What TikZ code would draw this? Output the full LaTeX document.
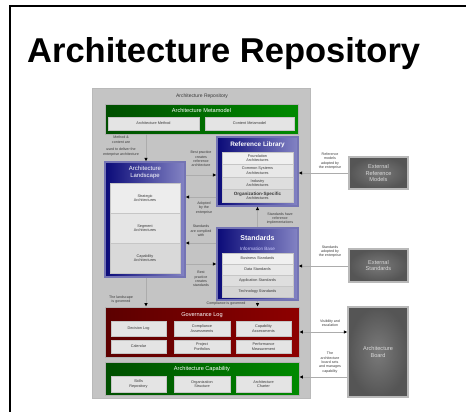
\documentclass[tikz,border=0pt]{standalone}
\usepackage{fontspec}
\setmainfont{Liberation Sans}
\usetikzlibrary{arrows.meta}
\definecolor{panelgray}{HTML}{C4C4C4}
\definecolor{greendark}{HTML}{004E00}
\definecolor{greenlight}{HTML}{008A00}
\definecolor{bluedark}{HTML}{0A0A78}
\definecolor{bluelight}{HTML}{8484C4}
\definecolor{bluerim}{HTML}{7474B4}
\definecolor{reddark}{HTML}{5C0000}
\definecolor{redlight}{HTML}{8E0000}
\definecolor{itemgray}{HTML}{E4E4E4}
\definecolor{extdark}{HTML}{555555}
\definecolor{extlight}{HTML}{7A7A7A}
\definecolor{notegray}{HTML}{3A3A3A}
\tikzset{Panel/.style={fill=panelgray,draw=gray!55,inner sep=0pt},
  Greenbox/.style={left color=greendark,right color=greenlight,draw=gray!60,line width=0.8pt,inner sep=0pt},
  Bluebox/.style={left color=bluedark,right color=bluelight,draw=bluerim,line width=1.2pt,inner sep=0pt},
  Redbox/.style={left color=reddark,right color=redlight,draw=gray!60,line width=0.8pt,inner sep=0pt},
  Item/.style={fill=#1,draw=gray!45,inner sep=0pt,align=center,text=notegray,font=\fontsize{3.8}{4.4}\selectfont},
  Item/.default=itemgray,
  Head/.style={text=white,inner sep=0pt,align=center,font=\fontsize{5.6}{6.4}\selectfont},
  Extbox/.style={inner color=extlight,outer color=extdark,draw=gray!55,line width=1.2pt,inner sep=0pt,
    text=white!85!black,align=center,font=\fontsize{5.6}{6.6}\selectfont},
  Note/.style={inner sep=0pt,align=center,text=notegray,font=\fontsize{3.6}{4.4}\selectfont},
  Link/.style={draw=gray!65,line width=0.7pt,-{Latex[black,length=3.5pt,width=3.5pt]}},
  Link2/.style={draw=gray!65,line width=0.7pt,{Latex[black,length=3.5pt,width=3.5pt]}-{Latex[black,length=3.5pt,width=3.5pt]}}}

\begin{document}
\begin{tikzpicture}[x=1pt,y=-1pt]
        \useasboundingbox (0,0) rectangle (466,412);
        \draw[line width=1.6pt] (466,6) -- (10,6) -- (10,412);
        \node[anchor=base west,inner sep=0pt,font=\fontsize{34.5}{40}\selectfont\bfseries] (Title) at (27,63) {Architecture Repository};

        % repository panel
        \node[Panel,minimum width=218pt,minimum height=310pt] (Repo) at (201,243){};
        \node[Note,font=\fontsize{5}{6}\selectfont] (RepoName) at (202,96) {Architecture Repository};

        % metamodel
        \node[Greenbox,minimum width=193pt,minimum height=30pt] (Meta) at (201.5,119){};
        \node[Head] (MetaHead) at (201.5,110) {Architecture Metamodel};
        \node[Item,minimum width=91pt,minimum height=13pt] (Method) at (153.5,123.5) {Architecture Method};
        \node[Item,minimum width=89pt,minimum height=13pt] (Content) at (249.5,123.5) {Content Metamodel};

        % landscape
        \node[Bluebox,minimum width=80pt,minimum height=115pt] (Land) at (145,219.5){};
        \node[Head,font=\fontsize{6}{7}\selectfont] (LandHead) at (145,172) {Architecture\\Landscape};
        \node[Item=gray!14,minimum width=70pt,minimum height=30pt] (Strat) at (145,198) {Strategic\\Architectures};
        \node[Item=gray!20,minimum width=70pt,minimum height=30pt] (Segm) at (145,228) {Segment\\Architectures};
        \node[Item=gray!30,minimum width=70pt,minimum height=30pt] (Capa) at (145,258) {Capability\\Architectures};

        % reference library
        \node[Bluebox,minimum width=81pt,minimum height=69pt] (RefLib) at (257.5,171.5){};
        \node[Head,font=\fontsize{6.4}{7}\selectfont\bfseries] (RefHead) at (257.5,145) {Reference Library};
        \node[Item=gray!12,minimum width=71pt,minimum height=12.5pt] (Found) at (257.5,158.25) {Foundation\\Architectures};
        \node[Item=gray!18,minimum width=71pt,minimum height=12.5pt] (Common) at (257.5,170.75) {Common Systems\\Architectures};
        \node[Item=gray!26,minimum width=71pt,minimum height=12.5pt] (Indus) at (257.5,183.25) {Industry\\Architectures};
        \node[Item=gray!34,minimum width=71pt,minimum height=12.5pt] (Org) at (257.5,195.75) {\textbf{\fontsize{4.6}{5}\selectfont Organization-Specific}\\Architectures};

        % standards
        \node[Bluebox,minimum width=81pt,minimum height=72pt] (Std) at (257.5,264){};
        \node[Head,font=\fontsize{7}{8}\selectfont\bfseries] (StdHead) at (257.5,238) {Standards};
        \node[Head,font=\fontsize{4.6}{5}\selectfont,text=white!80!blue] (StdSub) at (257.5,248.5) {Information Base};
        \node[Item=gray!12,minimum width=71pt,minimum height=11pt] (BusStd) at (257.5,258.5) {Business Standards};
        \node[Item=gray!18,minimum width=71pt,minimum height=11pt] (DataStd) at (257.5,269.5) {Data Standards};
        \node[Item=gray!26,minimum width=71pt,minimum height=11pt] (AppStd) at (257.5,280.5) {Application Standards};
        \node[Item=gray!34,minimum width=71pt,minimum height=11pt] (TechStd) at (257.5,291.5) {Technology Standards};

        % governance log
        \node[Redbox,minimum width=194pt,minimum height=50pt] (Gov) at (202,332){};
        \node[Head] (GovHead) at (202,315) {Governance Log};
        \node[Item,minimum width=55pt,minimum height=15pt] (Decision) at (138.5,328.5) {Decision Log};
        \node[Item,minimum width=56pt,minimum height=15pt] (Compl) at (202,328.5) {Compliance\\Assessments};
        \node[Item,minimum width=55pt,minimum height=15pt] (CapAss) at (263.5,328.5) {Capability\\Assessments};
        \node[Item,minimum width=55pt,minimum height=13pt] (Calendar) at (138.5,346.5) {Calendar};
        \node[Item,minimum width=56pt,minimum height=13pt] (Portf) at (202,346.5) {Project\\Portfolios};
        \node[Item,minimum width=55pt,minimum height=13pt] (Perf) at (263.5,346.5) {Performance\\Measurement};

        % capability
        \node[Greenbox,minimum width=194pt,minimum height=33pt] (Cap) at (202,378.5){};
        \node[Head] (CapHead) at (202,369) {Architecture Capability};
        \node[Item,minimum width=55pt,minimum height=16pt] (Skills) at (138.5,384) {Skills\\Repository};
        \node[Item,minimum width=56pt,minimum height=16pt] (OrgStr) at (202,384) {Organization\\Structure};
        \node[Item,minimum width=55pt,minimum height=16pt] (Charter) at (263.5,384) {Architecture\\Charter};

        % outside the repository
        \node[Extbox,minimum width=59pt,minimum height=32pt] (ExtRef) at (378.5,173) {External\\Reference\\Models};
        \node[Extbox,minimum width=59pt,minimum height=33pt] (ExtStd) at (378.5,265.5) {External\\Standards};
        \node[Extbox,minimum width=60pt,minimum height=90pt] (Board) at (378,352) {Architecture\\Board};

        \coordinate (LeftX) at (146,0);
        \coordinate (MidX) at (257.5,0);

        \draw[Link] (Meta.south -| LeftX) -- (Land.north -| LeftX);
        \draw[Link] (Land.east |- 0,175) -- (RefLib.west |- 0,175);
        \draw[Link] (RefLib.west |- 0,197) -- (Land.east |- 0,197);
        \draw[Link] (Std.west |- 0,243) -- (Land.east |- 0,243);
        \draw[Link] (Land.east |- 0,264) -- (Std.west |- 0,264);
        \draw[Link] (Std.north -| MidX) -- (RefLib.south -| MidX);
        \draw[Link] (Land.south -| LeftX) -- (Gov.north -| LeftX);
        \draw[Link] (Std.south -| MidX) -- (Gov.north -| MidX);
        \draw[Link] (ExtRef.west |- 0,173) -- (RefLib.east |- 0,173);
        \draw[Link] (ExtStd.west |- 0,266) -- (Std.east |- 0,266);
        \draw[Link2] (Board.west |- 0,332) -- (Gov.east |- 0,332);
        \draw[Link] (Board.west |- 0,377) -- (Cap.east |- 0,377);

        \node[Note] (MethodNote) at (121,146) {Method \&\\content are\\[3pt]used to deliver the\\enterprise architecture};
        \node[Note] (BestRef) at (201,159) {Best practice\\creates\\reference\\architecture};
        \node[Note] (Adopted) at (204,208) {Adopted\\by the\\enterprise};
        \node[Note] (Complied) at (201,231) {Standards\\are complied\\with};
        \node[Note] (BestStd) at (201,279) {Best\\practice\\creates\\standards};
        \node[Note] (Impl) at (280,218.5) {Standards have\\reference\\implementations};
        \node[Note] (LandGov) at (121,299.5) {The landscape\\is governed};
        \node[Note] (ComplGov) at (226,304) {Compliance is governed};
        \node[Note] (RefAdopt) at (330,161) {Reference\\models\\adopted by\\the enterprise};
        \node[Note] (StdAdopt) at (330,251.5) {Standards\\adopted by\\the enterprise};
        \node[Note] (Visib) at (330,323) {Visibility and\\escalation};
        \node[Note] (Sets) at (330,362.5) {The\\architecture\\board sets\\and manages\\capability};
    \end{tikzpicture}
\end{document}
